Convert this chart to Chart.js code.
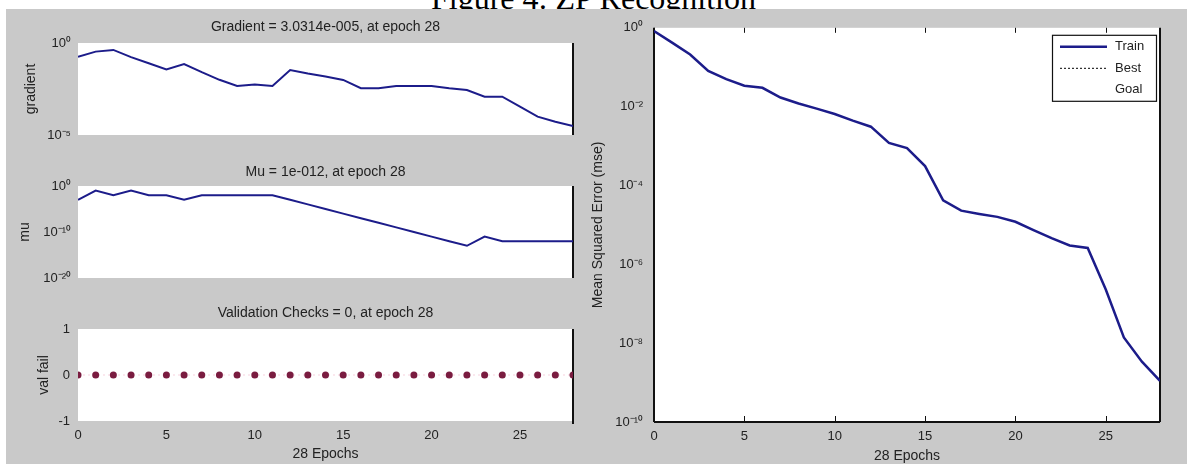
<!DOCTYPE html>
<html>
<head>
<meta charset="utf-8">
<script src="https://cdn.jsdelivr.net/npm/chart.js@4/dist/chart.umd.min.js"></script>
<style>
body{margin:0;background:#fff;}
#page{position:relative;width:1187px;height:464px;overflow:hidden;background:#fff;}
#fig{position:absolute;left:6px;top:9px;width:1181px;height:455px;background:#c9c9c9;}
#head{position:absolute;left:0;top:0;width:1187px;height:9px;overflow:hidden;}
#head div{position:absolute;left:0;top:-18px;width:1187px;text-align:center;font:32px/32px "Liberation Serif",serif;color:#000;}
canvas{position:absolute;}
</style>
</head>
<body>
<div id="page">
<div id="fig"></div>
<div id="head"><div>Figure 4: ZP Recognition</div></div>
<canvas id="grad" width="577" height="151" style="left:6px;top:9px"></canvas>
<canvas id="mu" width="577" height="160" style="left:6px;top:140px"></canvas>
<canvas id="val" width="577" height="174" style="left:6px;top:290px"></canvas>
<canvas id="mse" width="603" height="455" style="left:584px;top:9px"></canvas>
</div>
<script>
// training record
const epochs=[0,1,2,3,4,5,6,7,8,9,10,11,12,13,14,15,16,17,18,19,20,21,22,23,24,25,26,27,28];
const gradient=[0.18,0.34,0.42,0.17,0.079,0.037,0.072,0.026,0.010,0.0046,0.0056,0.0046,0.034,0.022,0.015,0.0098,0.0035,0.0035,0.0046,0.0046,0.0046,0.0035,0.0028,0.0012,0.0012,0.00035,0.0001,5.2e-5,3.0314e-5];
const mu=[1e-3,1e-1,1e-2,1e-1,1e-2,1e-2,1e-3,1e-2,1e-2,1e-2,1e-2,1e-2,1e-3,1e-4,1e-5,1e-6,1e-7,1e-8,1e-9,1e-10,1e-11,1e-12,1e-13,1e-11,1e-12,1e-12,1e-12,1e-12,1e-12];
const valFail=[0,0,0,0,0,0,0,0,0,0,0,0,0,0,0,0,0,0,0,0,0,0,0,0,0,0,0,0,0];
const mse=[0.83,0.42,0.21,0.081,0.050,0.034,0.030,0.017,0.012,0.0089,0.0065,0.0044,0.0031,0.0012,0.00089,0.00031,4.2e-5,2.3e-5,1.9e-5,1.6e-5,1.2e-5,7.4e-6,4.6e-6,3.0e-6,2.6e-6,2.3e-7,1.4e-8,3.4e-9,1.1e-9];

const gradTicks=[1e-5,1];
const gradTickLabels=['10⁻⁵','10⁰'];
const muTicks=[1e-20,1e-10,1];
const muTickLabels=['10⁻²⁰','10⁻¹⁰','10⁰'];
const valTicks=[-1,0,1];
const valTickLabels=['-1','0','1'];
const mseTicks=[1e-10,1e-8,1e-6,1e-4,1e-2,1];
const mseTickLabels=['10⁻¹⁰','10⁻⁸','10⁻⁶','10⁻⁴','10⁻²','10⁰'];
const epochTicks=[0,5,10,15,20,25];

const legendLabels=['Train','Best','Goal'];

const navy='#1c1c8a';
const txt='#222';
const fam="'Liberation Sans', Arial, sans-serif";
Chart.defaults.font.family=fam;
Chart.defaults.color=txt;

function pts(vals){ return epochs.map((e,i)=>({x:e,y:vals[i]})); }

/* white plot area */
const plotBg={id:'plotBg',beforeDraw(c){
  const a=c.chartArea,x=c.ctx;
  x.save();x.fillStyle='#fff';x.fillRect(a.left,a.top,a.right-a.left,a.bottom-a.top);x.restore();
}};

/* axis box lines + inner ticks */
const frame={id:'frame',beforeDatasetsDraw(c,args,o){
  const a=c.chartArea,x=c.ctx;
  x.save();x.strokeStyle='#111';x.lineWidth=o.w||2;
  x.beginPath();
  if(o.left){x.moveTo(a.left,a.top);x.lineTo(a.left,a.bottom);}
  if(o.right){x.moveTo(a.right,a.top);x.lineTo(a.right,a.bottom+(o.ext||0));}
  if(o.bottom){x.moveTo(a.left,a.bottom);x.lineTo(a.right,a.bottom);}
  x.stroke();
  if(o.ticks){
    x.lineWidth=1;x.beginPath();
    c.scales.x.ticks.forEach(t=>{
      const px=Math.round(c.scales.x.getPixelForValue(t.value))+0.5;
      x.moveTo(px,a.bottom);x.lineTo(px,a.bottom-6);
      x.moveTo(px,a.top);x.lineTo(px,a.top+5);
    });
    x.stroke();
  }
  x.restore();
}};

/* legend box inside the plot */
const key={id:'key',afterDraw(c,args,o){
  if(!o.show) return;
  const a=c.chartArea,x=c.ctx,L=a.right-108,T=a.top+7;
  x.save();
  x.fillStyle='#fff';x.fillRect(L,T,104,66);
  x.strokeStyle='#111';x.lineWidth=1.2;x.strokeRect(L+0.5,T+0.5,104,66);
  c.data.datasets.forEach((d,i)=>{
    const y=T+12+i*21.5;
    x.strokeStyle=d.borderColor;x.lineWidth=d.borderWidth;x.setLineDash(d.borderDash||[]);
    x.beginPath();x.moveTo(L+8,y);x.lineTo(L+55,y);x.stroke();
    x.setLineDash([]);
    x.fillStyle=txt;x.font='13px '+fam;x.textBaseline='middle';
    x.fillText(legendLabels[i],L+63,y);
  });
  x.restore();
}};

function xAxis(show,extra){
  return Object.assign({
    type:'linear',min:0,max:28,display:show,
    grid:{display:false,drawTicks:false},border:{display:false},
    afterBuildTicks:s=>{s.ticks=epochTicks.map(v=>({value:v}));},
    ticks:{font:{size:13},padding:7,color:txt}
  },extra||{});
}
function yAxis(type,min,max,tv,tl,w,pad,title,tpad){
  return {
    type:type,min:min,max:max,
    grid:{display:false,drawTicks:false},border:{display:false},
    afterBuildTicks:s=>{s.ticks=tv.map(v=>({value:v}));},
    afterFit:s=>{s.width=w;},
    ticks:{font:{size:13},padding:pad,color:txt,callback:(v,i)=>tl[i]},
    title:{display:true,text:title,font:{size:14,lineHeight:1},padding:{top:tpad,bottom:0},color:txt}
  };
}
function base(pad,title,tpad,scales,plugs){
  return {
    responsive:false,animation:false,events:[],
    layout:{padding:pad},
    plugins:Object.assign({
      legend:{display:false},tooltip:{enabled:false},
      title:{display:!!title,text:title,fullSize:false,color:txt,font:{size:14,lineHeight:1,weight:'normal'},padding:tpad}
    },plugs),
    scales:scales
  };
}
const lineDs=(label,vals,w)=>({label:label,data:pts(vals),borderColor:navy,borderWidth:w,pointRadius:0,tension:0});

new Chart(document.getElementById('grad'),{
  type:'line',
  data:{datasets:[lineDs('gradient',gradient,2)]},
  options:base({top:0,left:0,right:10,bottom:25},'Gradient = 3.0314e-005, at epoch 28',{top:11,bottom:9},
    {x:xAxis(false),y:yAxis('logarithmic',1e-5,1,gradTicks,gradTickLabels,72,7,'gradient',18)},
    {frame:{right:true,w:2},key:{show:false}}),
  plugins:[plotBg,frame,key]
});

new Chart(document.getElementById('mu'),{
  type:'line',
  data:{datasets:[lineDs('mu',mu,2)]},
  options:base({top:0,left:0,right:10,bottom:22},'Mu = 1e-012, at epoch 28',{top:25,bottom:7},
    {x:xAxis(false),y:yAxis('logarithmic',1e-20,1,muTicks,muTickLabels,72,7,'mu',12)},
    {frame:{right:true,w:2},key:{show:false}}),
  plugins:[plotBg,frame,key]
});

new Chart(document.getElementById('val'),{
  type:'line',
  data:{datasets:[{label:'val fail',data:pts(valFail),showLine:true,borderColor:'rgba(235,150,180,0.45)',borderWidth:1,borderDash:[2,3],
    pointStyle:'circle',pointRadius:3.5,pointBackgroundColor:'#7a1c40',pointBorderColor:'#7a1c40',pointBorderWidth:0}]},
  options:base({top:0,left:0,right:10,bottom:0},'Validation Checks = 0, at epoch 28',{top:16,bottom:9},
    {x:xAxis(true,{afterFit:s=>{s.height=43;},title:{display:true,text:'28 Epochs',font:{size:14,lineHeight:1},padding:{top:0,bottom:3},color:txt}}),
     y:yAxis('linear',-1,1,valTicks,valTickLabels,72,8,'val fail',31)},
    {frame:{right:true,w:2,ext:3},key:{show:false}}),
  plugins:[plotBg,frame,key]
});

new Chart(document.getElementById('mse'),{
  type:'line',
  data:{datasets:[
    lineDs('Train',mse,2.5),
    {label:'Best',data:[],borderColor:'#000',borderWidth:1,borderDash:[2,2],pointRadius:0},
    {label:'Goal',data:[],borderColor:'rgba(0,0,0,0)',borderWidth:1,pointRadius:0}
  ]},
  options:base({top:14,left:0,right:27,bottom:0},'',{top:0,bottom:0},
    {x:xAxis(true,{afterFit:s=>{s.height=42;},title:{display:true,text:'28 Epochs',font:{size:14,lineHeight:1},padding:{top:0,bottom:1},color:txt}}),
     y:yAxis('logarithmic',1e-10,1,mseTicks,mseTickLabels,70,11,'Mean Squared Error (mse)',7)},
    {frame:{left:true,right:true,bottom:true,w:2,ticks:true},key:{show:true}}),
  plugins:[plotBg,frame,key]
});
</script>
</body>
</html>
